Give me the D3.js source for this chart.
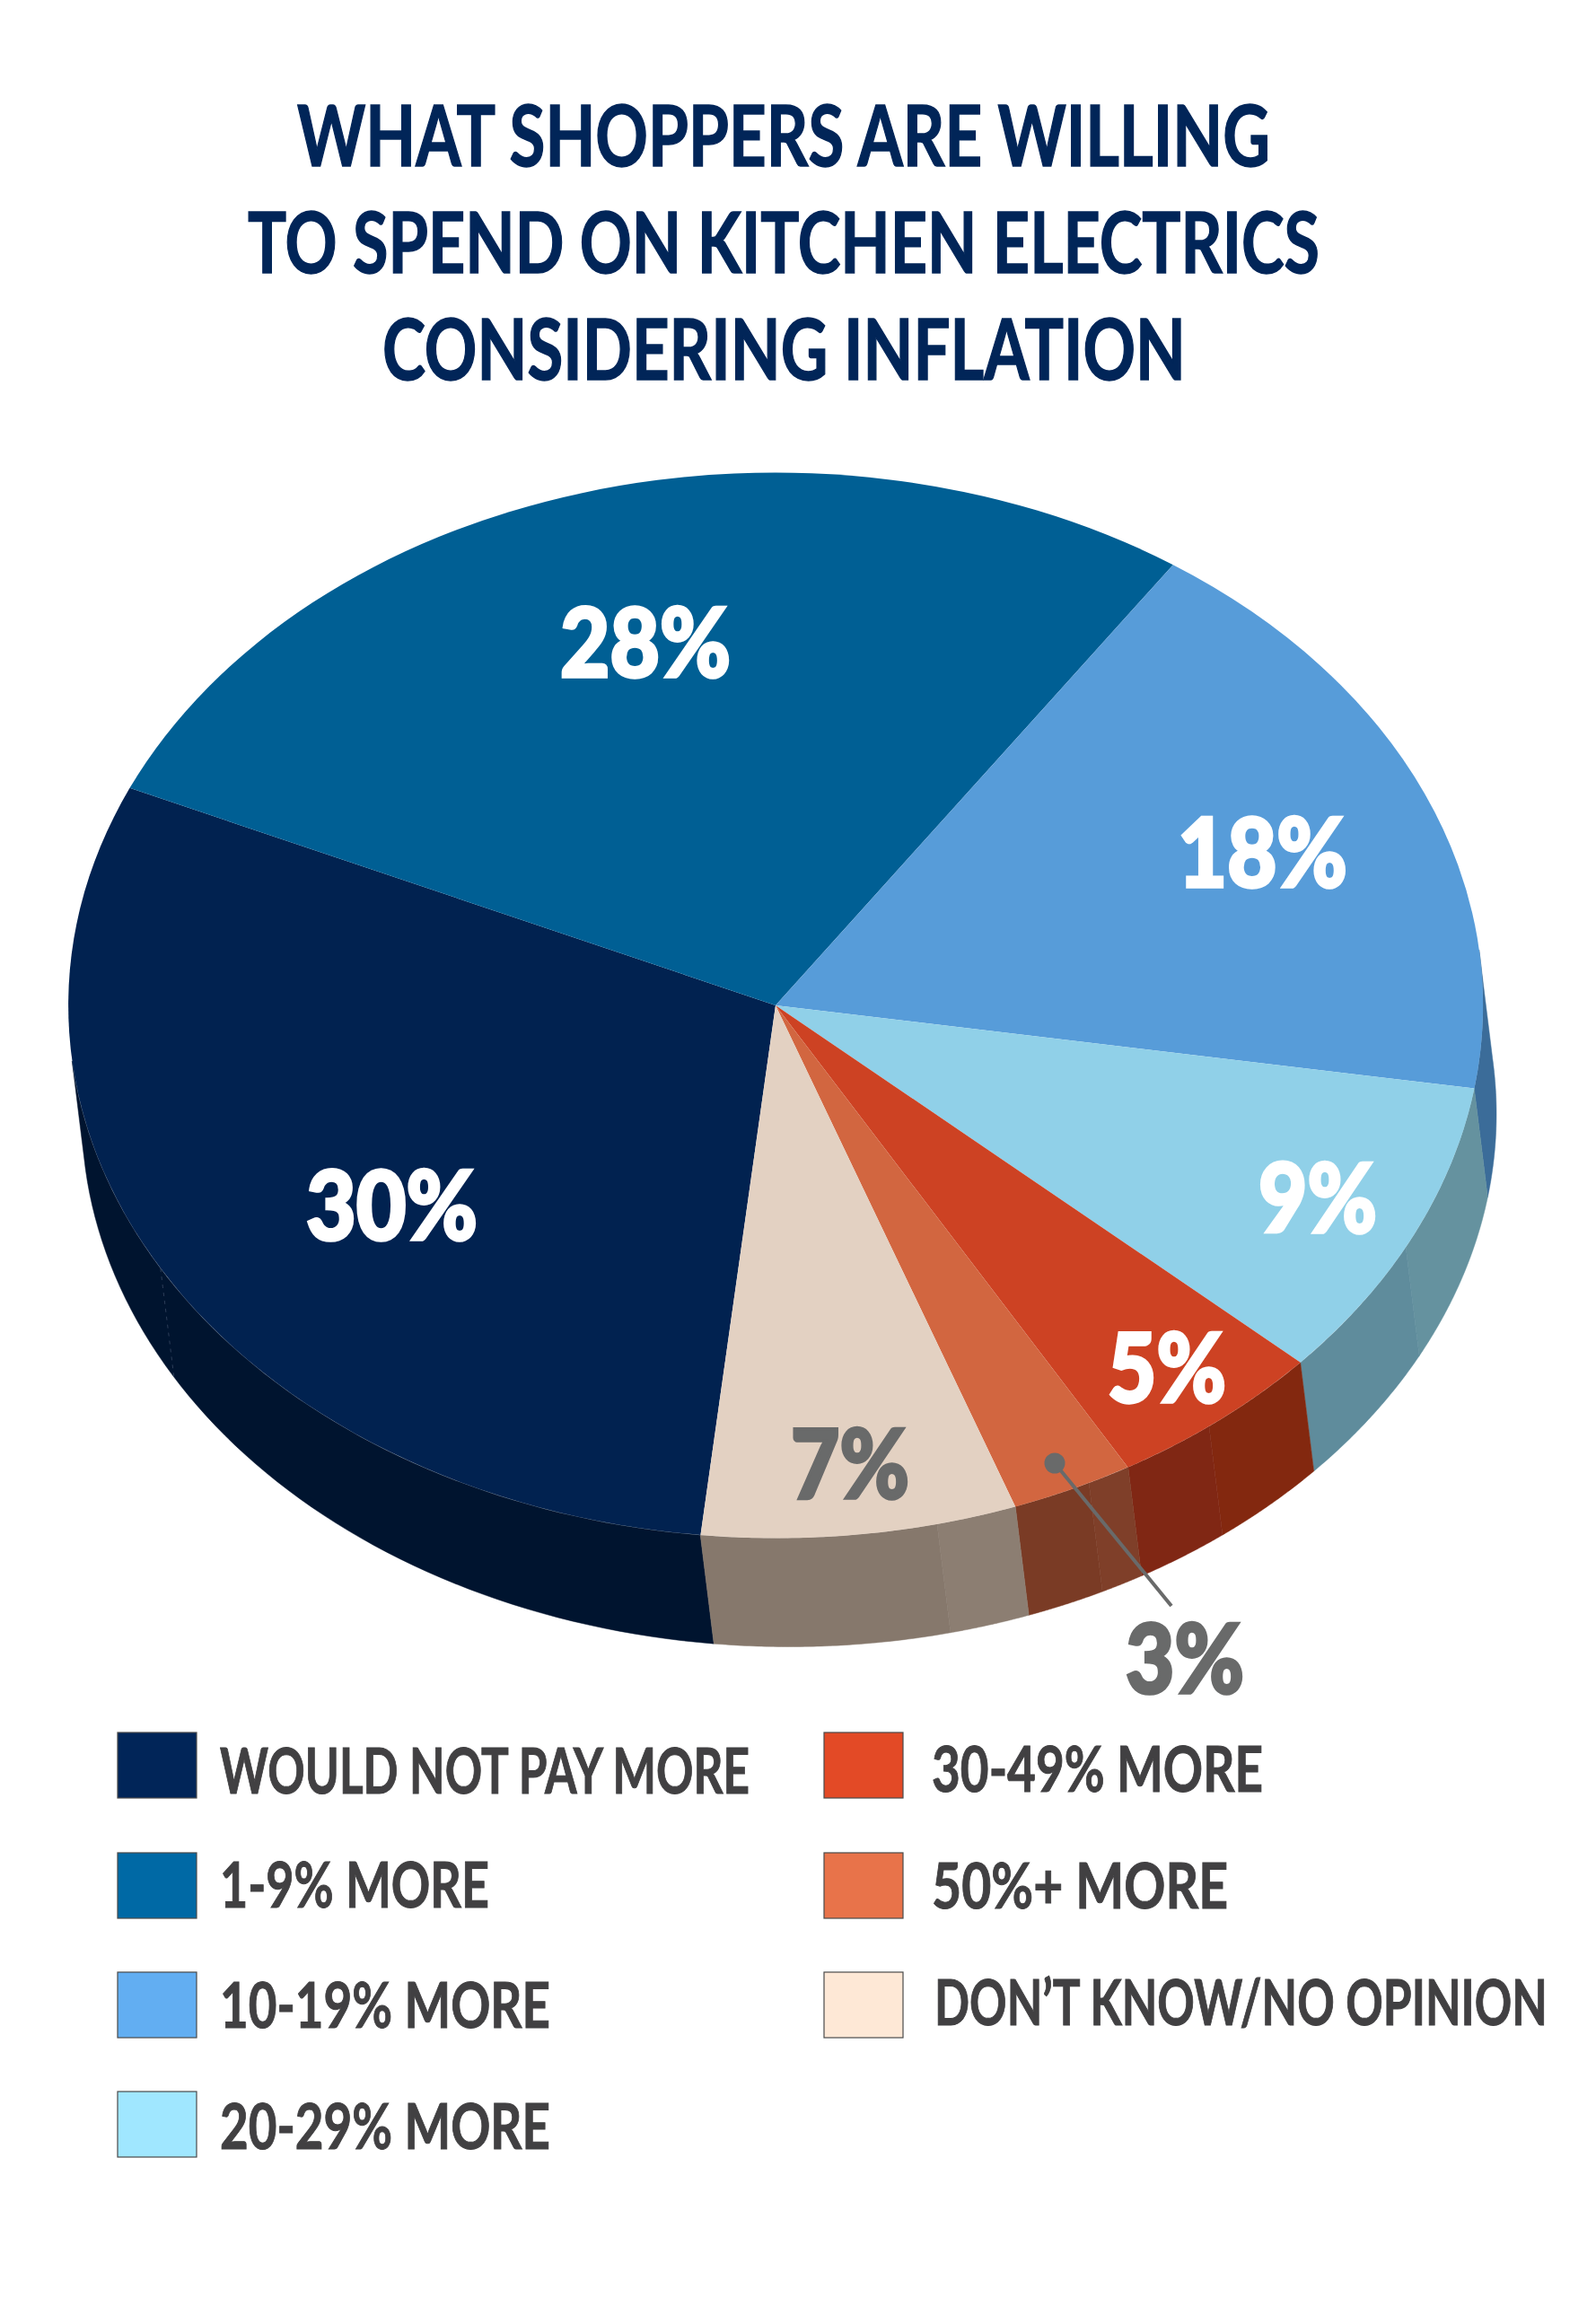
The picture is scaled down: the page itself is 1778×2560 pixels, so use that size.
<!DOCTYPE html>
<html>
<head>
<meta charset="utf-8">
<script src="https://cdnjs.cloudflare.com/ajax/libs/d3/7.8.5/d3.min.js"></script>
<style>
  body { margin: 0; background: #fff; }
  text { font-family: "Lato", "Open Sans", sans-serif; }
</style>
</head>
<body>
<div id="chart"></div>
<script>
const categories = ["WOULD NOT PAY MORE", "1-9% MORE", "10-19% MORE", "20-29% MORE", "30-49% MORE", "50%+ MORE", "DON\u2019T KNOW/NO OPINION"];
// slice sizes as drawn in the picture, they differ a little from the printed labels
const values = [30, 27.8, 18, 9.2, 5, 2.8, 7.2];
const valueLabels = ["30%", "28%", "18%", "9%", "5%", "3%", "7%"];
const titleLines = ["WHAT SHOPPERS ARE WILLING", "TO SPEND ON KITCHEN ELECTRICS", "CONSIDERING INFLATION"];

const topColors = ["#012250", "#005f94", "#579cd9", "#90d0e8", "#cd4223", "#d26640", "#e3d1c2"];
const wallColors = ["#00142f", "#00142f", "#3b6c99", "#5f8c9c", "#802714", "#7a3b25", "#86786c"];
// the first part of some walls is a shade off
const wallFirstColors = [null, null, null, "#65929f", "#83280f", "#7f3f29", "#8c7e72"];
const wallSplits = [null, null, null, 117, 142.2, 153.7, 166.8];
const swatchColors = ["#012558", "#0069a5", "#62aef2", "#a0e7ff", "#e34a26", "#e8734a", "#fee8d6"];

const width = 1778, height = 2560;
const cx = 864, cy = 1120, rx = 788, ry = 593.5;
const drop = {x: 15, y: 121};
const deg = Math.PI / 180;

const svg = d3.select("#chart").append("svg")
    .attr("width", width)
    .attr("height", height)
    .style("display", "block");

// title
const titleLayout = [
  {x: 331, w: 1084, y: 185},
  {x: 276, w: 1194, y: 304},
  {x: 426, w: 895, y: 423}
];
svg.append("g").selectAll("text")
  .data(titleLines)
  .join("text")
    .attr("x", (d, i) => titleLayout[i].x)
    .attr("y", (d, i) => titleLayout[i].y)
    .attr("textLength", (d, i) => titleLayout[i].w)
    .attr("lengthAdjust", "spacingAndGlyphs")
    .attr("font-size", 94)
    .attr("font-weight", 700)
    .attr("fill", "#012558")
    .attr("stroke", "#012558")
    .attr("stroke-width", 1.5)
    .text(d => d);

// pie, starts at the 7%/30% edge and goes clockwise
const pie = d3.pie().sort(null).value(d => d)
    .startAngle(186.1 * deg)
    .endAngle(546.1 * deg);
const slices = pie(values);

const px = a => cx + rx * Math.sin(a);
const py = a => cy - ry * Math.cos(a);

// only the part of the rim facing us gets a wall
const frontFrom = 84 * deg, frontTo = 264 * deg;
const wallParts = [];
slices.forEach(d => {
  const turn = Math.floor(d.startAngle / (2 * Math.PI)) * 2 * Math.PI;
  const from = Math.max(d.startAngle - turn, frontFrom);
  const to = Math.min(d.endAngle - turn, frontTo);
  if (from >= to) return;
  const split = wallSplits[d.index];
  if (split) {
    wallParts.push({from: from, to: split * deg, color: wallFirstColors[d.index]});
    wallParts.push({from: split * deg, to: to, color: wallColors[d.index]});
  } else {
    wallParts.push({from: from, to: to, color: wallColors[d.index]});
  }
});

const rim = d3.line().x(d => d[0]).y(d => d[1]);
svg.append("g").selectAll("path")
  .data(wallParts)
  .join("path")
    .attr("fill", d => d.color)
    .attr("stroke", d => d.color)
    .attr("stroke-width", 0.5)
    .attr("d", d => {
      const steps = d3.range(0, 61).map(i => d.from + (d.to - d.from) * i / 60);
      const upper = steps.map(a => [px(a), py(a)]);
      const lower = steps.slice().reverse().map(a => [px(a) + drop.x, py(a) + drop.y]);
      return rim(upper.concat(lower)) + "Z";
    });

// faint seam in the navy wall
svg.append("line")
    .attr("x1", px(240.4 * deg)).attr("y1", py(240.4 * deg))
    .attr("x2", px(240.4 * deg) + drop.x).attr("y2", py(240.4 * deg) + drop.y)
    .attr("stroke", "#2c3d58")
    .attr("stroke-width", 1)
    .attr("stroke-dasharray", "4 5");

const arc = d3.arc().innerRadius(0).outerRadius(1);
svg.append("g")
    .attr("transform", `translate(${cx},${cy}) scale(${rx},${ry})`)
  .selectAll("path")
  .data(slices)
  .join("path")
    .attr("fill", d => topColors[d.index])
    .attr("d", arc);

// leader for the 3% slice
const leader = svg.append("g");
leader.append("line")
    .attr("x1", 1175).attr("y1", 1630)
    .attr("x2", 1305).attr("y2", 1789)
    .attr("stroke", "#696a6a")
    .attr("stroke-width", 4);
leader.append("circle")
    .attr("cx", 1175).attr("cy", 1630).attr("r", 11.5)
    .attr("fill", "#696a6a");

// percent labels
const labelLayout = [
  {x: 341, w: 191, y: 1381, fill: "#fff"},
  {x: 624, w: 190, y: 754, fill: "#fff"},
  {x: 1312, w: 189, y: 988, fill: "#fff"},
  {x: 1402, w: 132, y: 1373, fill: "#fff"},
  {x: 1234, w: 132, y: 1562, fill: "#fff"},
  {x: 1254, w: 132, y: 1886, fill: "#696a6a"},
  {x: 881, w: 132, y: 1669, fill: "#696a6a"}
];
svg.append("g").selectAll("text")
  .data(valueLabels)
  .join("text")
    .attr("x", (d, i) => labelLayout[i].x)
    .attr("y", (d, i) => labelLayout[i].y)
    .attr("textLength", (d, i) => labelLayout[i].w)
    .attr("lengthAdjust", "spacingAndGlyphs")
    .attr("font-size", 106)
    .attr("font-weight", 900)
    .attr("fill", (d, i) => labelLayout[i].fill)
    .attr("stroke", (d, i) => labelLayout[i].fill)
    .attr("stroke-width", 3.5)
    .text(d => d);

// legend
const legendLayout = [
  {sx: 131, sy: 1930, x: 245, w: 590, y: 1998},
  {sx: 131, sy: 2064, x: 245, w: 300, y: 2125},
  {sx: 131, sy: 2197, x: 245, w: 368, y: 2259},
  {sx: 131, sy: 2330, x: 245, w: 368, y: 2394},
  {sx: 918, sy: 1930, x: 1038, w: 369, y: 1996},
  {sx: 918, sy: 2064, x: 1038, w: 330, y: 2126},
  {sx: 918, sy: 2197, x: 1041, w: 683, y: 2256}
];
const legend = svg.append("g").selectAll("g")
  .data(categories)
  .join("g");
legend.append("rect")
    .attr("x", (d, i) => legendLayout[i].sx)
    .attr("y", (d, i) => legendLayout[i].sy)
    .attr("width", 88)
    .attr("height", 73)
    .attr("fill", (d, i) => swatchColors[i])
    .attr("stroke", "#4a4a4a")
    .attr("stroke-width", 1.2);
legend.append("text")
    .attr("x", (d, i) => legendLayout[i].x)
    .attr("y", (d, i) => legendLayout[i].y)
    .attr("textLength", (d, i) => legendLayout[i].w)
    .attr("lengthAdjust", "spacingAndGlyphs")
    .attr("font-size", 70)
    .attr("font-weight", 700)
    .attr("fill", "#414042")
    .attr("stroke", "#414042")
    .attr("stroke-width", 1)
    .text(d => d);
</script>
</body>
</html>
